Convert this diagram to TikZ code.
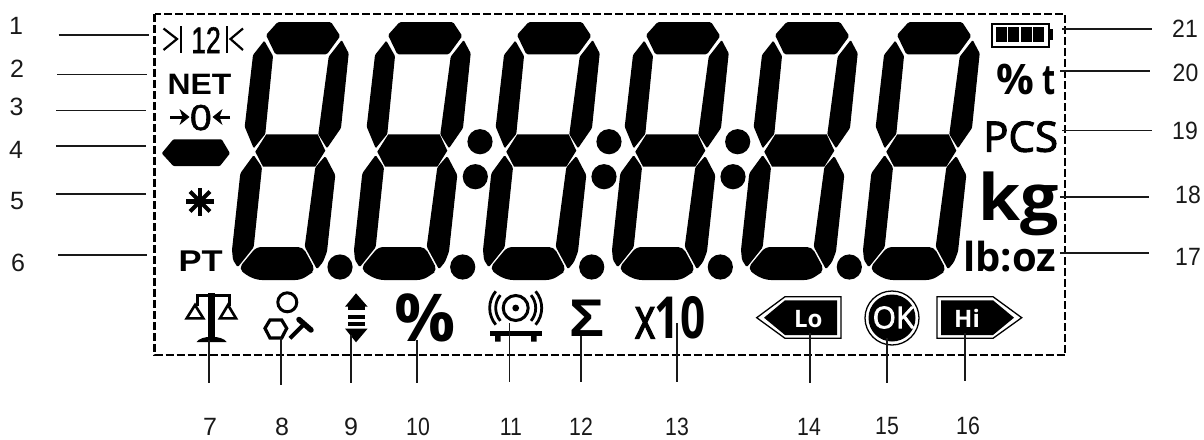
\documentclass[tikz,border=0pt]{standalone}
\usepackage{fontspec}
\setmainfont{Liberation Sans}
\newfontfamily\osans{Open Sans}
\newfontfamily\osmed[FakeBold=2.5]{Open Sans}
\newfontfamily\libm[FakeBold=1.5]{Liberation Sans}
\newcommand{\fs}[1]{\fontsize{#1}{#1}\selectfont}
\tikzset{
  seg/.style={fill=black,draw=none},
  lead/.style={draw=black!90,line width=1.4pt},
  num/.style={inner sep=0pt,text=black!90,font=\fs{25}},
  lcd/.style={inner sep=0pt,anchor=base west},
  frameline/.style={draw=black,line width=2.3pt,dash pattern=on 8pt off 3pt},
  white text/.style={inner sep=0pt,text=white}
}
\newcommand{\digitat}[1]{%
\begin{scope}[shift={(#1,22)}]
  \fill[seg,rounded corners=1.5pt] (0,13)--(11.7,0)--(65,0)--(74.3,14)--(61,32.3)--(9.3,32.3)--cycle;
  \fill[seg,rounded corners=1pt] (75.7,18)--(82.7,31.3)--(75,106)--(61,126.3)--(52.3,112.3)--(62.7,34.7)--cycle;
  \fill[seg,rounded corners=1pt] (-1.7,18.7)--(-13,33)--(-21.3,104.7)--(-12.3,126.3)--(-0.7,112)--(7,34)--cycle;
  \fill[seg] (-10.7,129.7)--(0.3,112.3)--(51.7,112.3)--(59.3,128.7)--(49.3,144.7)--(-3,144.7)--cycle;
  \fill[seg,rounded corners=1.5pt] (-12.3,133)--(-25.7,151.3)--(-34,228)--(-33,238)--(-28.3,245.3)--(-12.3,225.3)--(-4,145.3)--cycle;
  \fill[seg,rounded corners=1.5pt] (59.3,134)--(69.3,153)--(61,229.7)--(57,240)--(51,247.3)--(38.7,224.7)--(49.3,145.3)--cycle;
  \fill[seg,rounded corners=5pt] (-27.3,246.3)--(-9.7,225)--(37,225)--(49.3,248)--(43,253)--(34.3,258)--(-9,258)--(-20,253)--cycle;
\end{scope}}
\newcommand{\leader}[6][1]{%
  \node[num] (n#2) at (#3) {\scalebox{#1}[1]{#4}};
  \coordinate (a#2) at (#5);
  \coordinate (b#2) at (#6);
  \draw[lead] (a#2) -- (b#2);}
\newcommand{\lcdtxt}[6]{\node[lcd] (#1) at (#2) {#3\fs{#4}\scalebox{#5}[1]{#6}};}
\begin{document}
\begin{tikzpicture}[x=1pt,y=-1pt]
\useasboundingbox (0,0) rectangle (1204,439);
% frame
\draw[frameline] (154.5,14) rectangle (1065,355);
% digits
\foreach \d in {266,388,517,646,775,897} {\digitat{\d}}
% decimal points
\foreach \p/\x in {p1/340,p2/462.7,p3/591.7,p4/720.3,p5/849.3} {\fill (\x,267) circle (12.6);}
% colons
\foreach \x/\xx in {480/475.3,609/604,737.7/733} {\fill (\x,141.7) circle (12.6); \fill (\xx,176.7) circle (12.6);}
% (1) >| 12 |<
\draw[line width=2.2pt] (163.5,28.5)--(177,39)--(163.5,50);
\draw[line width=2.4pt] (180.7,26)--(180.7,53);
\node[lcd] (twelve) at (191,53) {\libm\fs{37}\scalebox{.72}[1]{12}};
\draw[line width=2.4pt] (226.7,26)--(226.7,53);
\draw[line width=2.2pt] (243,28.5)--(230.5,39)--(243,50);
% NET
\lcdtxt{net}{167.5,94}{\bfseries}{29.5}{1.08}{NET}
% zero
\node[lcd] (zero) at (189.8,130) {\libm\fs{36}\scalebox{1.08}[1]{0}};
\draw[line width=3pt] (170,117)--(184,117);
\fill (189.5,117)--(179.5,109)--(182.5,117)--(179.5,125)--cycle;
\draw[line width=3pt] (230,117)--(218,117);
\fill (212.5,117)--(222.5,109)--(219.5,117)--(222.5,125)--cycle;
% minus
\fill[seg,rounded corners=1pt] (161.7,153.3)--(173.3,139.3)--(221.7,139.3)--(230,153.3)--(220,166)--(173.3,166)--cycle;
% star
\foreach \a in {0,45,90,135} {\draw[line width=4.2pt] (200,201.5) ++(\a:14) -- ++(\a+180:28);}
% PT
\lcdtxt{pt}{178.5,271.7}{\bfseries}{30}{1.15}{PT}
% scale icon
\draw[line width=3pt] (197,306) -- (197,295) -- (229,295) -- (229,306);
\fill (208.3,292.5) rectangle (215,340);
\draw[line width=2.6pt] (186.7,318.3)--(203.3,318.3)--(195,305)--cycle;
\draw[line width=2.6pt] (220,318.3)--(236,318.3)--(228,305)--cycle;
\fill (196.7,342) .. controls (201,335) and (222,335) .. (226.7,342) -- cycle;
% tool icon
\draw[line width=3pt] (287.3,302.3) circle (9.5);
\draw[line width=3.2pt] (265,328.3)--(270,320)--(281.7,320)--(286.7,328.3)--(281.7,338)--(270,338)--cycle;
\draw[line width=4pt] (290,338.3)--(303.3,325);
\draw[line width=5.5pt,line cap=round] (299,319.5)--(311,330);
% arrows up/down
\fill (356,293.3)--(367.7,306.7)--(345,306.7)--cycle;
\fill (348,306)rectangle(364.5,310);
\fill (348,314.5)rectangle(364.5,318.5);
\fill (348,321.5)rectangle(364.5,325.5);
\fill (348,328.5)--(367.7,328.5)--(356,342.3)--(345,328.5)--cycle;
% percent
\lcdtxt{pc}{394,341}{\osans\bfseries}{66}{1.03}{\%}
% vibration icon
\draw[line width=3pt] (515.7,308) circle (12.5);
\fill (515.7,308) circle (3.4);
\foreach \r in {20,26} {
  \draw[line width=2.8pt] (515.7,308) ++(140:\r) arc (140:220:\r);
  \draw[line width=2.8pt] (515.7,308) ++(40:\r) arc (40:-40:\r);}
\draw[line width=5pt] (490,333.3)--(541.7,333.3);
\fill (495,333) rectangle (500.7,341.7) (531,333) rectangle (536.7,341.7);
% sigma
\lcdtxt{sig}{569.5,336.7}{\bfseries}{53}{1.1}{Σ}
% x10
\node[lcd] (xten) at (634.5,338.3) {\osmed\fs{58}\scalebox{.68}[1]{x}\kern-.5pt\osans\bfseries\scalebox{.76}[1]{10}};
% Lo
\draw[line width=1.3pt] (756.7,317.7)--(785,296.7)--(841,296.7)--(841,338.3)--(785,338.3)--cycle;
\fill (764,317.7)--(785,300.3)--(837,300.3)--(837,335)--(785,335)--cycle;
\node[white text] (lo) at (808.3,319) {\osans\bfseries\fs{24}Lo};
% OK
\draw[line width=1.3pt] (892,318) circle (27);
\fill (892,318) circle (23.5);
\node[white text] (ok) at (893.5,317.5) {\osmed\fs{30}OK};
% Hi
\draw[line width=1.3pt] (1021.7,317.7)--(993,296.7)--(937,296.7)--(937,338.3)--(993,338.3)--cycle;
\fill (1014,317.7)--(993,300.3)--(941,300.3)--(941,335)--(993,335)--cycle;
\node[white text] (hi) at (967,318) {\osans\bfseries\fs{24}Hi};
% battery
\draw[line width=2.2pt] (991.7,24) rectangle (1049,46.7);
\foreach \x in {995.5,1008,1020.5,1033} {\fill (\x,27.3) rectangle ++(11.2,14.4);}
\fill (1049,29.3) rectangle (1053.3,40);
% units
\node[lcd] (pt2) at (996,94) {\osans\bfseries\fs{42}\%\kern 8pt\scalebox{.72}[1]{t}};
\lcdtxt{pcs}{983,151.7}{\osmed}{42}{1}{PCS}
\lcdtxt{kg}{978,220}{\osans\bfseries}{64}{1.06}{kg}
\lcdtxt{lb}{963,271.7}{\osans\bfseries}{40}{1}{lb:oz}
% leaders
\leader{1}{16,26}{1}{58.5,35}{148.5,35}
\leader{2}{17,69}{2}{57,74.5}{147,74.5}
\leader{3}{16.5,107}{3}{56,110.5}{146,110.5}
\leader{4}{16,150}{4}{56,146}{146,146}
\leader{5}{17,201.5}{5}{56,194}{146,194}
\leader{6}{18,263}{6}{58,255}{147,255}
\leader{7}{210,427}{7}{209,340}{209,382.6}
\leader{8}{282,427}{8}{281,338}{281,385}
\leader{9}{351,427}{9}{351,335}{351,382.6}
\leader[.85]{10}{418,427}{10}{417,340}{417,383}
\leader[.85]{11}{511,427}{11}{509.3,323}{509.3,382}
\leader[.85]{12}{581,427}{12}{581,336}{581,382}
\leader[.85]{13}{677,427}{13}{677,323}{677,382}
\leader[.85]{14}{809,427}{14}{810,333}{810,383}
\leader[.85]{15}{887,426}{15}{887,338}{887,383}
\leader[.85]{16}{968,426}{16}{965,333}{965,381}
\leader[.92]{17}{1188,257}{17}{1060,253}{1149,253}
\leader[.92]{18}{1188,195}{18}{1060,197}{1149,197}
\leader[.92]{19}{1185,131}{19}{1062,130.5}{1151.5,130.5}
\leader[.92]{20}{1185.5,73}{20}{1060,71}{1150,71}
\leader[.92]{21}{1185,29}{21}{1062,29}{1152,29}
\end{tikzpicture}
\end{document}
